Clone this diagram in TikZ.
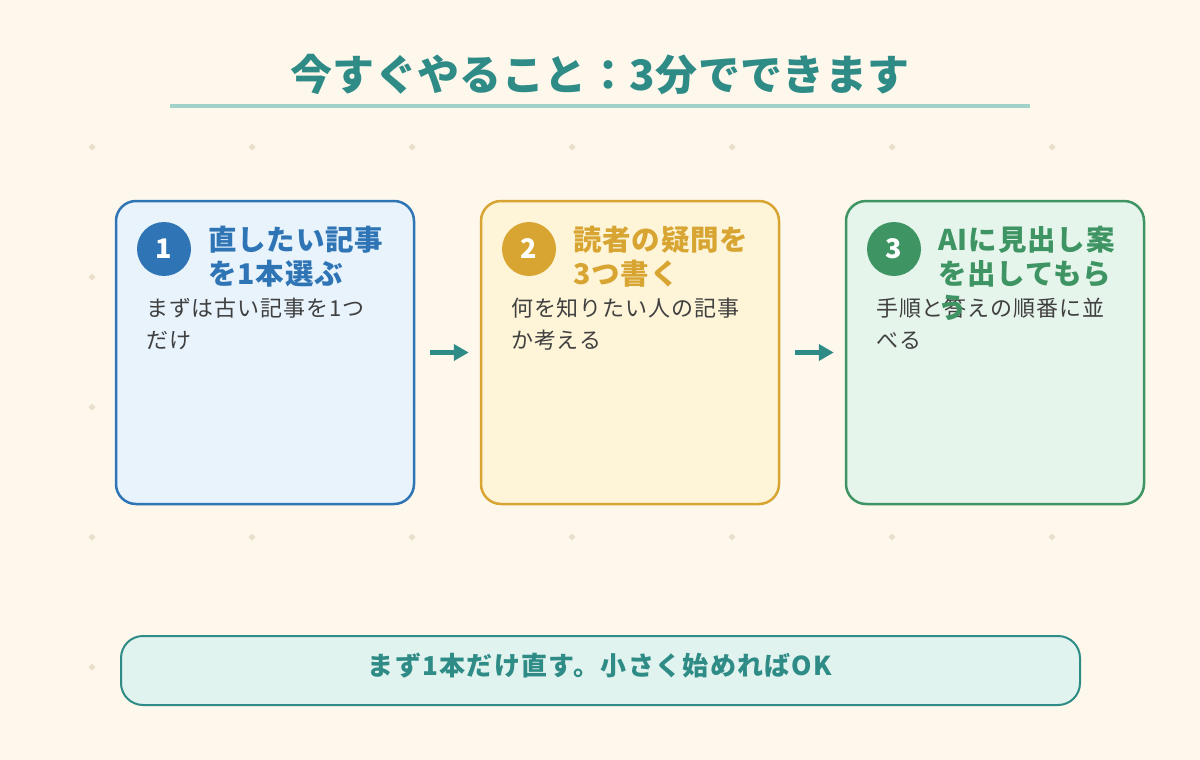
\documentclass[tikz,border=0pt]{standalone}
\usepackage{fontspec}
\setmainfont{Noto Sans CJK JP}
\newfontfamily\titlefont{Noto Sans CJK JP Black}[LetterSpace=1]
\newfontfamily\headfont{Noto Sans CJK JP Black}[LetterSpace=3]
\newfontfamily\bodyfont{Noto Sans CJK JP}[LetterSpace=4]
\newfontfamily\banfont{Noto Sans CJK JP}[LetterSpace=5]
\usetikzlibrary{arrows.meta}
\definecolor{bg}{HTML}{FDF7EC}
\definecolor{dotc}{HTML}{E9DFCB}
\definecolor{teal}{HTML}{2E8B86}
\definecolor{rulec}{HTML}{A0D2CA}
\definecolor{cblue}{HTML}{2F75B5}
\definecolor{fblue}{HTML}{E8F3FC}
\definecolor{cgold}{HTML}{D8A533}
\definecolor{fgold}{HTML}{FEF5D8}
\definecolor{cgreen}{HTML}{3E9462}
\definecolor{fgreen}{HTML}{E6F5EC}
\definecolor{fban}{HTML}{E1F3EF}
\definecolor{bodyc}{HTML}{404040}
\tikzset{
  card/.style={draw, line width=2.5pt, rounded corners=20pt, minimum width=298pt, minimum height=303pt, inner sep=0pt},
  numc/.style={circle, minimum size=54pt, inner sep=0pt, text=white, font=\headfont\fontsize{27}{27}\selectfont},
  head/.style={anchor=base west, inner sep=0pt, font=\headfont\fontsize{28.5}{34}\selectfont},
  body/.style={anchor=base west, inner sep=0pt, text=bodyc, font=\bodyfont\fontsize{22}{32}\selectfont},
  arr/.style={draw=teal, line width=5.5pt, -{Triangle[length=15pt,width=16pt]}, shorten <=15pt, shorten >=11pt},
}
\begin{document}
\begin{tikzpicture}[x=1pt,y=-1pt]
\fill[bg] (0,0) rectangle (1200,760);
\useasboundingbox (0,0) rectangle (1200,760);
% dots
\foreach \x in {92,252,...,1052}
  \foreach \y in {147,277,...,667}
    \fill[dotc] (\x,\y-3.5) -- (\x+3.5,\y) -- (\x,\y+3.5) -- (\x-3.5,\y) -- cycle;
% title
\node[anchor=base, inner sep=0pt, text=teal, font=\titlefont\fontsize{42}{48}\selectfont] (title) at (600,91) {今すぐやること：3分でできます};
\coordinate (rl) at (170,106);
\coordinate (rr) at (1030,106);
\draw[rulec, line width=4pt] (rl) -- (rr);
% cards
\node[card, draw=cblue, fill=fblue] (c1) at (265,352.5) {};
\node[card, draw=cgold, fill=fgold] (c2) at (630,352.5) {};
\node[card, draw=cgreen, fill=fgreen] (c3) at (995,352.5) {};
% numbers
\node[numc, fill=cblue] (n1) at (164,249) {1};
\node[numc, fill=cgold] (n2) at (529,249) {2};
\node[numc, fill=cgreen] (n3) at (894,249) {3};
% headings
\node[head, text=cblue] (h1a) at (208,250) {直したい記事};
\node[head, text=cblue] (h1b) at (208,284) {を1本選ぶ};
\node[head, text=cgold] (h2a) at (573,250) {読者の疑問を};
\node[head, text=cgold] (h2b) at (573,284) {3つ書く};
% body
\node[body] (b1a) at (146,316) {まずは古い記事を1つ};
\node[body] (b1b) at (146,348) {だけ};
\node[body] (b2a) at (511,316) {何を知りたい人の記事};
\node[body] (b2b) at (511,348) {か考える};
\node[body] (b3a) at (876,316) {手順と答えの順番に並};
\node[body] (b3b) at (876,348) {べる};
\node[head, text=cgreen] (h3a) at (938,250) {AIに見出し案};
\node[head, text=cgreen] (h3b) at (938,284) {を出してもら};
\node[head, text=cgreen] (h3c) at (938,318) {う};
% arrows
\draw[arr] (c1) -- (c2);
\draw[arr] (c2) -- (c3);
% banner
\node[draw=teal, fill=fban, line width=2pt, rounded corners=22pt, minimum width=959pt, minimum height=69pt, inner sep=0pt] (ban) at (600.5,670.5) {};
\node[inner sep=0pt, text=teal, font=\banfont\bfseries\fontsize{26}{30}\selectfont] (bantext) at (600,666) {まず1本だけ直す。小さく始めればOK};
\end{tikzpicture}
\end{document}
